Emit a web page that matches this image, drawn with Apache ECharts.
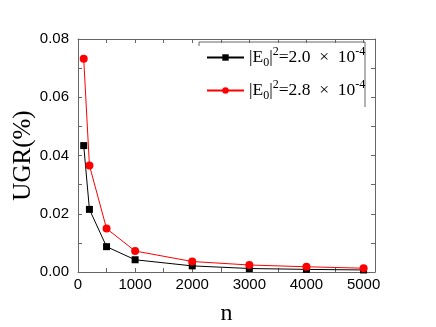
<!DOCTYPE html>
<html><head><meta charset="utf-8">
<script src="https://cdn.jsdelivr.net/npm/echarts@6/dist/echarts.min.js"></script>
<style>html,body{margin:0;padding:0;background:#fff}#c{width:436px;height:327px}</style>
</head><body><div id="c"></div>
<script>
const nValues = [100, 200, 500, 1000, 2000, 3000, 4000, 5000];
const ugrE20 = [0.0434, 0.0215, 0.0087, 0.0042, 0.0021, 0.0012, 0.0009, 0.0007];
const ugrE28 = [0.0732, 0.0366, 0.0149, 0.0072, 0.0036, 0.0024, 0.0018, 0.0013];
const seriesNames = ['|E0|2=2.0 × 10-4', '|E0|2=2.8 × 10-4'];
const legendRich = [
  '{t||E}{sub|0}{t||}{sup|2}{t|=2.0  ×  10}{sup|-4}',
  '{t||E}{sub|0}{t||}{sup|2}{t|=2.8  ×  10}{sup|-4}'
];
const xTicks = [0, 500, 1000, 1500, 2000, 2500, 3000, 3500, 4000, 4500, 5000];
const xLabels = [0, 1000, 2000, 3000, 4000, 5000];
const xTitle = 'n';
const yTitle = 'UGR(%)';

const serif = '"Liberation Serif","Times New Roman",serif';
const sans = '"Liberation Sans",Arial,sans-serif';
const axisColor = '#666';

const chart = echarts.init(document.getElementById('c'), null, {renderer: 'canvas'});
const mk = a => nValues.map((x, i) => [x, a[i]]);
chart.setOption({
  animation: false,
  backgroundColor: '#fff',
  grid: {left: 78, top: 39, right: 61, bottom: 55, containLabel: false, outerBoundsMode: 'none'},
  legend: {
    orient: 'vertical', left: 201, top: 41, itemGap: 10,
    itemWidth: 37, itemHeight: 8,
    data: seriesNames,
    formatter: name => legendRich[seriesNames.indexOf(name)],
    textStyle: {
      color: '#000',
      rich: {
        t: {fontFamily: serif, fontSize: 17.5, color: '#000', lineHeight: 23, verticalAlign: 'middle'},
        sub: {fontFamily: serif, fontSize: 12, color: '#000', lineHeight: 23, verticalAlign: 'bottom'},
        sup: {fontFamily: serif, fontSize: 12, color: '#000', lineHeight: 23, verticalAlign: 'top'}
      }
    }
  },
  graphic: [{
    type: 'polyline', silent: true,
    shape: {points: [[199, 46], [199, 42], [365, 42], [365, 107]]},
    style: {stroke: axisColor, lineWidth: 1, fill: null}
  }],
  xAxis: [{
    type: 'value', min: 0, max: 5200, position: 'bottom',
    name: xTitle, nameLocation: 'middle', nameGap: 30, nameMoveOverlap: false,
    nameTextStyle: {fontFamily: serif, fontSize: 24, color: '#000'},
    axisLine: {show: true, lineStyle: {color: axisColor, width: 1}},
    axisTick: {show: true, inside: true, length: 4, customValues: xTicks, lineStyle: {color: axisColor}},
    axisLabel: {customValues: xLabels, fontFamily: sans, fontSize: 15, color: '#000', margin: 5, formatter: v => String(v)},
    splitLine: {show: false}
  }, {
    type: 'value', min: 0, max: 5200, position: 'top',
    axisLine: {show: true, onZero: false, lineStyle: {color: axisColor, width: 1}},
    axisTick: {show: true, inside: true, length: 4, customValues: xTicks, lineStyle: {color: axisColor}},
    axisLabel: {show: false},
    splitLine: {show: false}
  }],
  yAxis: [{
    type: 'value', min: 0, max: 0.08, interval: 0.02, position: 'left',
    name: yTitle, nameLocation: 'middle', nameGap: 42, nameRotate: 90, nameMoveOverlap: false,
    nameTextStyle: {fontFamily: serif, fontSize: 25, color: '#000'},
    axisLine: {show: true, lineStyle: {color: axisColor, width: 1}},
    axisTick: {show: true, inside: true, length: 4, lineStyle: {color: axisColor}},
    minorTick: {show: true, splitNumber: 2, length: 4, lineStyle: {color: axisColor}},
    axisLabel: {fontFamily: sans, fontSize: 15, color: '#000', margin: 9, formatter: v => v.toFixed(2)},
    splitLine: {show: false}, minorSplitLine: {show: false}
  }, {
    type: 'value', min: 0, max: 0.08, interval: 0.01, position: 'right',
    axisLine: {show: true, onZero: false, lineStyle: {color: axisColor, width: 1}},
    axisTick: {show: true, inside: true, length: 4, lineStyle: {color: axisColor}},
    axisLabel: {show: false},
    splitLine: {show: false}
  }],
  series: [{
    name: seriesNames[0], type: 'line', data: mk(ugrE20),
    symbol: 'rect', symbolSize: 7,
    lineStyle: {color: '#000', width: 1}, itemStyle: {color: '#000'}
  }, {
    name: seriesNames[1], type: 'line', data: mk(ugrE28),
    symbol: 'circle', symbolSize: 8,
    lineStyle: {color: '#ff0000', width: 1}, itemStyle: {color: '#ff0000'}
  }]
});
</script></body></html>
